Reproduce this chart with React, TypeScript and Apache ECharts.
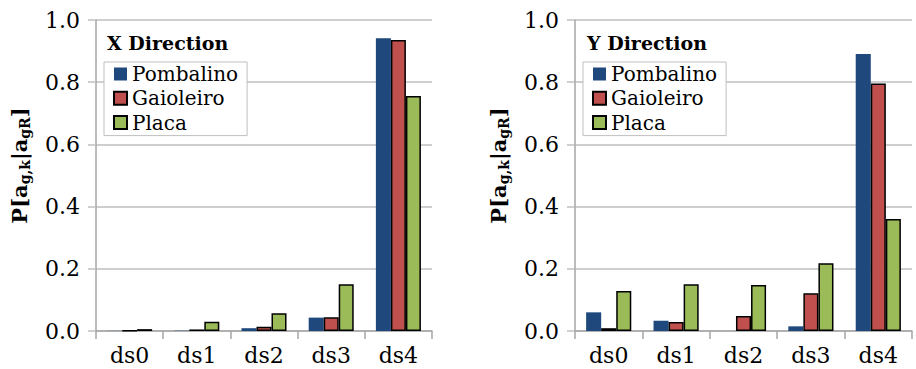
import React, { useEffect, useRef } from "react";
import * as echarts from "echarts";

const categories = ["ds0", "ds1", "ds2", "ds3", "ds4"];
const seriesNames = ["Pombalino", "Gaioleiro", "Placa"];
const xPombalino = [0.0005, 0.001, 0.009, 0.043, 0.941];
const xGaioleiro = [0.001, 0.005, 0.014, 0.044, 0.936];
const xPlaca = [0.006, 0.03, 0.057, 0.15, 0.756];
const yPombalino = [0.06, 0.033, 0, 0.015, 0.891];
const yGaioleiro = [0.009, 0.029, 0.048, 0.121, 0.796];
const yPlaca = [0.129, 0.15, 0.148, 0.218, 0.36];
const titles = ["X Direction", "Y Direction"];

const FONT = "DejaVu Serif";
const colors = ["#1F497D", "#C0504D", "#9BBB59"];

export default function App() {
  const ref = useRef<HTMLDivElement>(null);
  useEffect(() => {
    if (!ref.current) return;
    const chart = echarts.init(ref.current, undefined, { renderer: "svg" });
    const grids = [
      { left: 96, top: 20, width: 336, height: 311 },
      { left: 575, top: 20, width: 337, height: 311 },
    ];
    const data = [
      [xPombalino, xGaioleiro, xPlaca],
      [yPombalino, yGaioleiro, yPlaca],
    ];
    const axisName = "{b|P[a}{s|g,k}{b||a}{s|gR}{b|]}";
    const series: any[] = [];
    data.forEach((group, gi) => {
      group.forEach((vals, si) => {
        series.push({
          type: "bar",
          name: seriesNames[si],
          xAxisIndex: gi,
          yAxisIndex: gi,
          data: vals,
          barGap: "0%",
          barCategoryGap: "33%",
          itemStyle: {
            color: colors[si],
            borderColor: si === 0 ? colors[0] : "#000",
            borderWidth: si === 0 ? 0 : 1.5,
          },
        });
      });
    });
    chart.setOption({
      animation: false,
      textStyle: { fontFamily: FONT },
      title: titles.map((t, i) => ({
        text: t,
        left: i === 0 ? 107 : 587,
        top: 33,
        padding: [0, 0, 0, 0],
        textStyle: { fontFamily: FONT, fontWeight: "bold", fontSize: 19, color: "#000" },
      })),
      legend: [0, 1].map((i) => ({
        data: seriesNames,
        orient: "vertical",
        left: i === 0 ? 104 : 583,
        top: 62,
        padding: [0, 9, 1, 9],
        itemGap: 0.3,
        itemWidth: 13,
        itemHeight: 13,
        icon: "rect",
        borderColor: "#bfbfbf",
        borderWidth: 1,
        backgroundColor: "#fff",
        textStyle: { fontFamily: FONT, fontSize: 20, color: "#000", lineHeight: 24, padding: [0, 0, 0, 0] },
      })),
      grid: grids,
      xAxis: [0, 1].map((i) => ({
        type: "category",
        gridIndex: i,
        data: categories,
        axisLine: { lineStyle: { color: "#a6a6a6", width: 1.5 } },
        axisTick: { show: true, length: 8, lineStyle: { color: "#a6a6a6", width: 1.5 } },
        axisLabel: { fontFamily: FONT, fontSize: 22, color: "#000", margin: 13 },
      })),
      yAxis: [0, 1].map((i) => ({
        type: "value",
        gridIndex: i,
        min: 0,
        max: 1,
        interval: 0.2,
        name: axisName,
        nameLocation: "middle",
        nameRotate: 90,
        nameGap: 64,
        nameTextStyle: {
          padding: [0, 0, 0, 20],
          rich: {
            b: { fontFamily: FONT, fontWeight: "bold", fontSize: 21, color: "#000", lineHeight: 26 },
            s: { fontFamily: FONT, fontWeight: "bold", fontSize: 14, color: "#000", lineHeight: 14, verticalAlign: "bottom" },
          },
        },
        axisLine: { show: true, lineStyle: { color: "#a6a6a6", width: 1.5 } },
        axisTick: { show: true, length: 8, lineStyle: { color: "#bfbfbf", width: 1.5 } },
        splitLine: { show: true, lineStyle: { color: "#bfbfbf", width: 1.5 } },
        axisLabel: {
          fontFamily: FONT,
          fontSize: 22,
          color: "#000",
          margin: 16,
          formatter: (v: number) => v.toFixed(1),
        },
      })),
      series,
    });
    return () => chart.dispose();
  }, []);
  return (
    <div
      ref={ref}
      style={{ position: "fixed", left: 0, top: 0, width: 916, height: 369, background: "#fff" }}
    />
  );
}
